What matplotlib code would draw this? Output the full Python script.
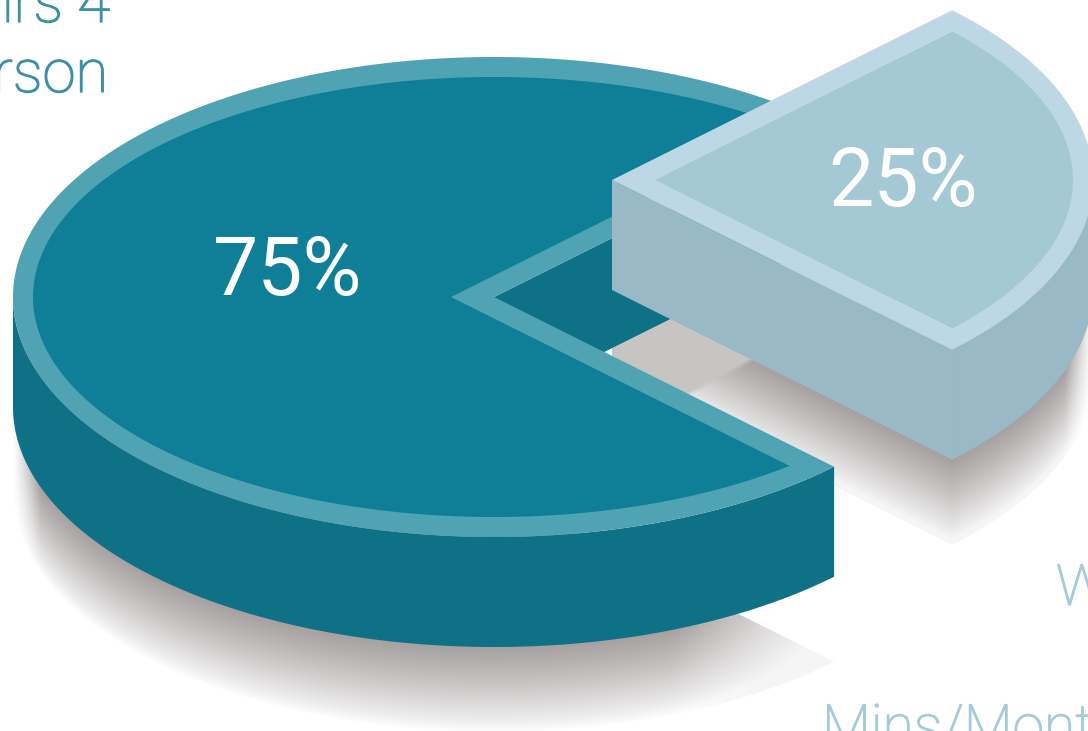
import numpy as np
import matplotlib
matplotlib.use("Agg")
import matplotlib.pyplot as plt
import matplotlib.patheffects as pe
from matplotlib.patches import Polygon

# Pie shares
shares = [75, 25]
share_labels = ["75%", "25%"]

# Text running off the edges of the graphic
side_texts = ["hrs 4", "rson", "W", "Mins/Month"]

# Colours: top face, rim, side wall
big_colors = ["#0e7f96", "#4fa3b2", "#0e7186"]
small_colors = ["#a5c8d5", "#bdd8e4", "#98b9c5"]

# Projected pie shape, in pixels
RX, RY = 481, 240
INNER_RX, INNER_RY = 461, 220
RIM_DX = 43
DEPTH = 110
SHADOW = 195
BIG_CENTER = (494, 297)
SMALL_CENTER = (612, 180)

half_gap = np.radians(shares[1] * 360 / 100 / 2)


def arc(center, rx, ry, start, end, n=200):
    phi = np.linspace(start, end, n)
    return np.column_stack([center[0] + rx * np.cos(phi), center[1] + ry * np.sin(phi)])


def inner_angle(dx):
    # Where the inset straight edge meets the inset ellipse
    dir_x = RX * np.cos(half_gap)
    dir_y = RY * np.sin(half_gap)
    a = (dir_x / INNER_RX) ** 2 + (dir_y / INNER_RY) ** 2
    b = 2 * dx * dir_x / INNER_RX ** 2
    c = (dx / INNER_RX) ** 2 - 1
    t = (-b + np.sqrt(b * b - 4 * a * c)) / (2 * a)
    return np.arctan2(t * dir_y / INNER_RY, (dx + t * dir_x) / INNER_RX)


def shifted(points, dy):
    return points + np.array([0, dy])


fig = plt.figure(figsize=(10.88, 7.31), dpi=100)
ax = fig.add_axes([0, 0, 1, 1])
ax.set_xlim(0, 1088)
ax.set_ylim(731, 0)
ax.axis("off")

xs, ys = np.meshgrid(np.arange(1088) + 0.5, np.arange(731) + 0.5)


def shadow_falloff(edge):
    # 1 at the foot of the wall, 0 at the cast edge
    order = np.argsort(edge[:, 0])
    lower = np.interp(xs, edge[order, 0], edge[order, 1])
    return np.clip((SHADOW - (ys - lower)) / (SHADOW - DEPTH), 0, 1) ** 0.85


def draw_shadow(strength, outline, zorder):
    rgba = np.zeros(xs.shape + (4,))
    rgba[..., :3] = np.array([166, 160, 160]) / 255
    rgba[..., 3] = strength
    img = ax.imshow(rgba, extent=(0, 1088, 731, 0), zorder=zorder, aspect="auto", interpolation="bilinear")
    img.set_clip_path(Polygon(outline, closed=True, transform=ax.transData))


# Shadow of the pulled-out slice, flat grey in the gap beside the notch
sc = np.array(SMALL_CENTER)
small_arc = arc(SMALL_CENTER, RX, RY, -half_gap, half_gap)
small_edge = np.vstack([[sc], arc(SMALL_CENTER, RX, RY, half_gap, 0, 100)])
small_outline = np.vstack([
    [sc],
    [sc + [0, SHADOW]],
    shifted(arc(SMALL_CENTER, RX, RY, half_gap, 0, 100), SHADOW),
    [[SMALL_CENTER[0] + RX, SMALL_CENTER[1]]],
])
right_fade = np.clip((SMALL_CENTER[0] + RX - xs) / 28, 0, 1)
gap_mix = np.clip(-((ys - 362) + 0.55 * (xs - 753)) / 6, 0, 1)
small_strength = shadow_falloff(small_edge) * (1 - gap_mix) + 0.62 * gap_mix
small_strength = np.maximum(small_strength, 0.1) * right_fade
draw_shadow(small_strength, small_outline, 1)

# Shadow of the main body
bc = np.array(BIG_CENTER)
big_arc = arc(BIG_CENTER, RX, RY, half_gap, 2 * np.pi - half_gap, 400)
big_edge = arc(BIG_CENTER, RX, RY, half_gap, np.pi, 200)
big_outline = np.vstack([
    [bc + [0, SHADOW]],
    shifted(big_edge, SHADOW),
    [[BIG_CENTER[0] - RX, BIG_CENTER[1]]],
    [bc],
])
left_fade = np.clip((xs - (BIG_CENTER[0] - RX)) / 28, 0, 1)
tail_fade = np.clip((860 - xs) / 190, 0, 1)
big_strength = shadow_falloff(big_edge) * left_fade * tail_fade
big_strength = np.maximum(big_strength, 0.1 * np.clip((xs - 650) / 100, 0, 1))
draw_shadow(big_strength, big_outline, 2)

# Main body: outer wall, wall inside the notch, then the top face
wall = arc(BIG_CENTER, RX, RY, half_gap, np.pi, 200)
ax.add_patch(Polygon(np.vstack([wall, shifted(wall, DEPTH)[::-1]]), color=big_colors[2], lw=0, zorder=3))
notch_end = big_arc[-1]
ax.add_patch(Polygon([bc, notch_end, notch_end + [0, DEPTH], bc + [0, DEPTH]], color=big_colors[2], lw=0, zorder=3))
ax.add_patch(Polygon(np.vstack([[bc], big_arc]), color=big_colors[1], lw=0, zorder=4))
phi = inner_angle(-RIM_DX)
big_inner = arc(BIG_CENTER, INNER_RX, INNER_RY, phi, 2 * np.pi - phi, 400)
ax.add_patch(Polygon(np.vstack([[bc - [RIM_DX, 0]], big_inner]), color=big_colors[0], lw=0, zorder=5))

# Pulled-out slice: front walls, then the top face
tip = small_arc[-1]
lower_arc = arc(SMALL_CENTER, RX, RY, half_gap, 0, 100)
ax.add_patch(Polygon([sc, tip, tip + [0, DEPTH], sc + [0, DEPTH]], color=small_colors[2], lw=0, zorder=6))
ax.add_patch(Polygon(np.vstack([lower_arc, shifted(lower_arc, DEPTH)[::-1]]), color=small_colors[2], lw=0, zorder=6))
ax.add_patch(Polygon(np.vstack([[sc], small_arc]), color=small_colors[1], lw=0, zorder=7))
phi = inner_angle(RIM_DX)
small_inner = arc(SMALL_CENTER, INNER_RX, INNER_RY, -phi, phi)
ax.add_patch(Polygon(np.vstack([[sc + [RIM_DX, 0]], small_inner]), color=small_colors[0], lw=0, zorder=8))

# Percent labels
ax.text(287.5, 295, share_labels[0], color="white", fontsize=58, family="Roboto",
        ha="center", va="baseline", zorder=9)
ax.text(903, 206, share_labels[1], color="white", fontsize=58, family="Roboto",
        ha="center", va="baseline", zorder=9)


def side_text(x, y, label, color, size, ha):
    t = ax.text(x, y, label, color=color, fontsize=size, family="Roboto", weight="light",
                ha=ha, va="baseline", clip_on=False)
    t.set_path_effects([pe.withStroke(linewidth=0.9, foreground=color)])


# Surrounding text
side_text(110, 22, side_texts[0], "#3b8fa6", 43, "right")
side_text(108, 92, side_texts[1], "#3b8fa6", 43, "right")
side_text(1056, 605, side_texts[2], "#a3cbd8", 41, "left")
side_text(822, 745, side_texts[3], "#a3cbd8", 41, "left")

fig.savefig("out.png", dpi=100, facecolor="white")
